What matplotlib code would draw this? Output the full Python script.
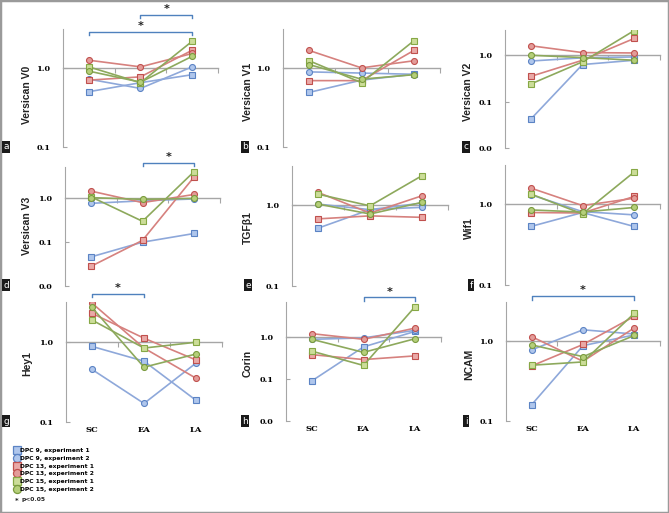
import numpy as np
import matplotlib
matplotlib.use("Agg")
import matplotlib.pyplot as plt
from matplotlib.lines import Line2D
from matplotlib.patches import Rectangle
from matplotlib.ticker import FixedLocator, FuncFormatter, NullLocator
import matplotlib.transforms as mtransforms

W, H = 669, 513

stages = ["SC", "EA", "LA"]
series = ["DPC 9, experiment 1", "DPC 9, experiment 2",
          "DPC 13, experiment 1", "DPC 13, experiment 2",
          "DPC 15, experiment 1", "DPC 15, experiment 2"]

# relative expression, one row per series (same order as `series`)
versican_v0 = [[0.50, 0.65, 0.82], [0.72, 0.55, 1.03], [0.70, 0.77, 1.67],
               [1.25, 1.03, 1.52], [1.03, 0.65, 2.17], [0.91, 0.66, 1.40]]
versican_v1 = [[0.49, 0.70, 0.83], [0.89, 0.86, 0.83], [0.69, 0.69, 1.66],
               [1.66, 1.00, 1.23], [1.23, 0.65, 2.20], [1.10, 0.72, 0.82]]
versican_v2 = [[0.042, 0.63, 0.78], [0.75, 0.88, 0.92], [0.35, 0.78, 2.3],
               [1.60, 1.14, 1.12], [0.24, 0.72, 3.4], [1.00, 0.89, 0.78]]
versican_v3 = [[0.046, 0.10, 0.158], [0.77, 0.88, 0.97], [0.028, 0.11, 3.1],
               [1.47, 0.80, 1.23], [1.09, 0.30, 4.1], [1.04, 0.95, 1.00]]
tgfb1 = [[0.515, 0.87, 1.05], [1.02, 0.87, 0.93], [0.67, 0.73, 0.70],
         [1.42, 0.79, 1.29], [1.35, 0.97, 2.28], [1.02, 0.77, 1.07]]
wif1 = [[0.525, 0.78, 0.525], [1.29, 0.80, 0.73], [0.78, 0.77, 1.23],
        [1.56, 0.95, 1.17], [1.32, 0.75, 2.46], [0.84, 0.79, 0.90]]
hey1 = [[0.87, 0.57, 0.186], [0.45, 0.17, 0.54], [2.24, 1.10, 0.59],
        [3.0, 0.83, 0.35], [1.85, 0.83, 0.98], [2.65, 0.48, 0.70]]
corin = [[0.09, 0.58, 1.36], [0.88, 0.95, 1.44], [0.38, 0.29, 0.355],
         [1.20, 0.88, 1.63], [0.46, 0.21, 5.3], [0.88, 0.43, 0.91]]
ncam = [[0.16, 0.88, 1.20], [0.78, 1.39, 1.23], [0.49, 0.91, 2.05],
        [1.14, 0.56, 1.47], [0.50, 0.55, 2.24], [0.90, 0.64, 1.18]]

genes = ["Versican V0", "Versican V1", "Versican V2", "Versican V3",
         "TGFβ1", "Wif1", "Hey1", "Corin", "NCAM"]
values = [versican_v0, versican_v1, versican_v2, versican_v3,
          tgfb1, wif1, hey1, corin, ncam]
letters = ["a", "b", "c", "d", "e", "f", "g", "h", "i"]
ylims = [(0.1, 3.1), (0.1, 3.1), (0.01, 3.5), (0.01, 5.2), (0.1, 3.0),
         (0.1, 3.0), (0.1, 3.1), (0.01, 6.8), (0.1, 3.1)]
# significance brackets: (from stage, to stage, height in axes fraction)
brackets = [[(0, 2, 0.975), (1, 2, 1.12)], [], [], [(1, 2, 1.035)], [], [],
            [(0, 1, 1.067)], [(1, 2, 1.04)], [(0, 2, 1.05)]]

# pixel boxes: left, top, right, bottom
boxes = [(63, 29, 218, 147), (283, 29, 440, 147), (505, 30, 660, 148),
         (65, 167, 220, 286), (292, 166, 448, 286), (505, 165, 660, 285),
         (66, 302, 222, 422), (286, 302, 441, 421), (506, 302, 660, 421)]
ylabel_pos = [(27, 95), (248, 92), (468, 92), (27, 226), (248, 228),
              (469, 228), (27, 364), (248, 363), (469, 364)]
letter_pos = [(6, 147), (245, 147), (466, 147), (6, 285), (248, 285),
              (471, 285), (6, 421), (245, 421), (466, 421)]

line_colors = ["#8EA8DA", "#8EA8DA", "#D6817E", "#D6817E", "#8DA95C", "#8DA95C"]
face_colors = ["#AFC6EC", "#AFC6EC", "#EAA9A7", "#E39C99", "#CCDD99", "#B5CF7A"]
edge_colors = ["#5B83C4", "#5B83C4", "#C0504D", "#C0504D", "#86A845", "#7A9A3E"]
markers = ["s", "o", "s", "o", "s", "o"]

tick_font = dict(family="DejaVu Serif", weight="bold", size=5.8)
grey = "#A6A6A6"
blue = "#4F81BD"

fig = plt.figure(figsize=(W / 100, H / 100), dpi=100)


def to_fig(l, t, r, b):
    return [l / W, 1 - b / H, (r - l) / W, (b - t) / H]


for k in range(9):
    ax = fig.add_axes(to_fig(*boxes[k]))
    xs = np.arange(len(stages))
    for s in range(len(series)):
        ax.plot(xs, values[k][s], color=line_colors[s], lw=1.2,
                marker=markers[s], ms=4.3, mfc=face_colors[s],
                mec=edge_colors[s], mew=0.8, zorder=3 + s * 0.1)
    ax.set_yscale("log")
    ax.set_ylim(*ylims[k])
    ax.set_xlim(-0.5, 2.5)
    for sp in ["top", "right"]:
        ax.spines[sp].set_visible(False)
    ax.spines["left"].set_color(grey)
    ax.spines["left"].set_linewidth(0.8)
    ax.spines["bottom"].set_position(("data", 1.0))
    ax.spines["bottom"].set_color(grey)
    ax.spines["bottom"].set_linewidth(1.0)
    ax.xaxis.set_major_locator(FixedLocator([0.5, 1.5, 2.5]))
    ax.xaxis.set_minor_locator(NullLocator())
    ax.tick_params(axis="x", direction="out", length=3.5, color=grey,
                   labelbottom=False)
    decades = [d for d in [0.01, 0.1, 1.0] if d >= ylims[k][0] - 1e-9]
    ax.yaxis.set_major_locator(FixedLocator(decades))
    ax.yaxis.set_minor_locator(NullLocator())
    ax.yaxis.set_major_formatter(FuncFormatter(lambda v, p: f"{v:.1f}"))
    ax.tick_params(axis="y", direction="in", length=3, color=grey, pad=9)
    for lab in ax.get_yticklabels():
        lab.set_fontproperties(tick_font)
    ax.patch.set_alpha(0)

    tr = mtransforms.blended_transform_factory(ax.transData, ax.transAxes)
    if k >= 6:
        for i, st in enumerate(stages):
            ax.text(i, -0.035, st, transform=tr, ha="center", va="top",
                    fontfamily="DejaVu Serif", fontweight="bold", fontsize=6)

    for (x0, x1, yb) in brackets[k]:
        d = 3.5 / (boxes[k][3] - boxes[k][1])
        ax.plot([x0, x0, x1, x1], [yb - d, yb, yb, yb - d], color=blue,
                lw=1.0, transform=tr, clip_on=False)
        ax.text((x0 + x1) / 2, yb + 0.005, "*", transform=tr, ha="center",
                va="bottom", fontsize=8, fontweight="bold", color="#222222")

    lx, ly = ylabel_pos[k]
    fig.text(lx / W, 1 - ly / H, genes[k], rotation=90, ha="center",
             va="center", fontsize=7.5, fontweight="bold",
             family="Liberation Sans", color="#222222")
    px, py = letter_pos[k]
    fig.text(px / W, 1 - py / H, letters[k], ha="center", va="center",
             fontsize=6.5, color="white", family="DejaVu Sans",
             bbox=dict(boxstyle="square,pad=0.15", fc="#1a1a1a", ec="none"))

handles = [Line2D([], [], ls="none", marker=markers[s], ms=5.8,
                  mfc=face_colors[s], mec=edge_colors[s], mew=0.9)
           for s in range(len(series))]
fig.legend(handles, series, loc="upper left",
           bbox_to_anchor=(10 / W, 1 - 444 / H), frameon=False,
           prop=dict(size=4.3, weight="bold", family="DejaVu Sans"),
           handlelength=0.8, handletextpad=0.15, labelspacing=0.42,
           borderpad=0.2)
fig.text(15 / W, 1 - 501 / H, "*", ha="left", va="center", fontsize=5,
         fontweight="bold", color="#222222")
fig.text(21 / W, 1 - 500 / H, "p<0.05", ha="left", va="center",
         fontsize=4.3, fontweight="bold", family="DejaVu Sans",
         color="#222222")

fig.patches.append(Rectangle((0, 0), 1, 1, transform=fig.transFigure,
                             fill=False, ec="#9a9a9a", lw=2.5))

fig.savefig("out.png", dpi=100)
